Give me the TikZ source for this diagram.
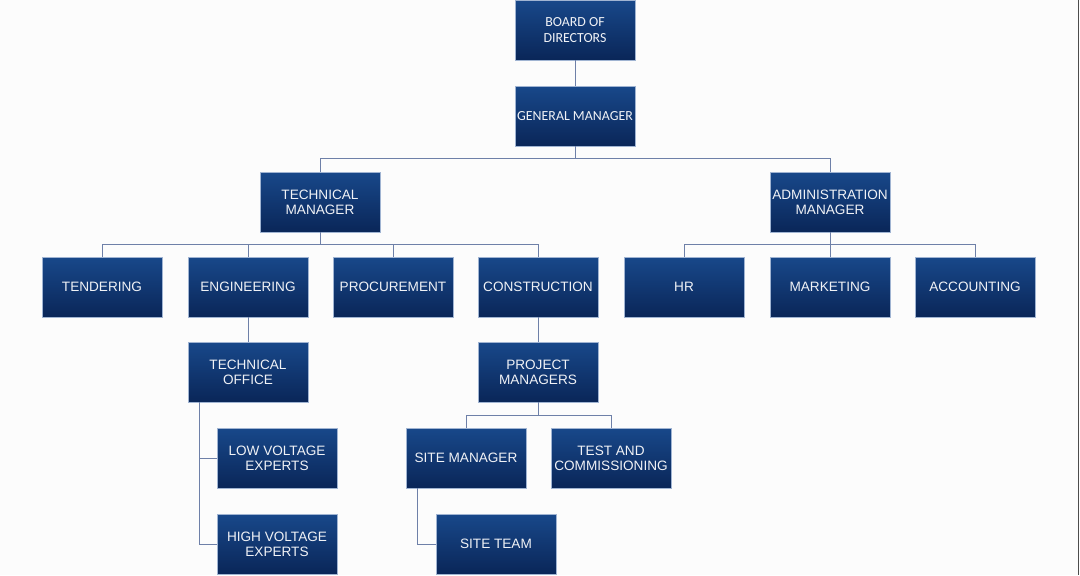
\documentclass[tikz,border=0pt]{standalone}
\usepackage{fontspec}
\setmainfont{Liberation Sans}
\newfontfamily\calfont{Carlito}
\definecolor{boxtop}{RGB}{24,72,138}
\definecolor{boxbot}{RGB}{10,38,88}
\definecolor{boxedge}{RGB}{160,180,210}
\definecolor{conn}{RGB}{110,128,168}
\definecolor{txt}{RGB}{240,242,246}
\begin{document}
\begin{tikzpicture}[x=0.75pt,y=-0.75pt,
  box/.style={draw=boxedge,line width=0.7pt,top color=boxtop,bottom color=boxbot,
    minimum width=90pt,minimum height=45pt,inner sep=1pt,text=txt,align=center,
    font=\fontsize{10.2}{11.5}\selectfont},
  cbox/.style={box,font=\calfont\fontsize{10.4}{11.8}\selectfont},
  link/.style={draw=conn,line width=0.6pt}]
\fill[white!99!black] (0,0) rectangle (1080,575);
\useasboundingbox (0,0) rectangle (1080,575);
\draw[black!70,line width=0.8pt] (1078.6,0) -- (1078.6,575);

\node[cbox] (bod) at (575,30) {BOARD OF\\DIRECTORS};
\node[cbox] (gm) at (575,116) {GENERAL MANAGER};
\node[box] (tm) at (320,202) {TECHNICAL\\MANAGER};
\node[box] (am) at (830,202) {ADMINISTRATION\\MANAGER};
\node[box] (ten) at (102,287) {TENDERING};
\node[box] (eng) at (248,287) {ENGINEERING};
\node[box] (pro) at (393,287) {PROCUREMENT};
\node[box] (con) at (538,287) {CONSTRUCTION};
\node[box] (hr) at (684,287) {HR};
\node[box] (mkt) at (830,287) {MARKETING};
\node[box] (acc) at (975,287) {ACCOUNTING};
\node[box] (to) at (248,372) {TECHNICAL\\OFFICE};
\node[box] (pm) at (538,372) {PROJECT\\MANAGERS};
\node[box] (lv) at (277,458) {LOW VOLTAGE\\EXPERTS};
\node[box] (hv) at (277,544) {HIGH VOLTAGE\\EXPERTS};
\node[box] (sm) at (466,458) {SITE MANAGER};
\node[box] (tc) at (611,458) {TEST AND\\COMMISSIONING};
\node[box] (st) at (496,544) {SITE TEAM};

\draw[link] (bod.south) -- (gm.north);
\draw[link] (gm.south) -- ++(0,12) -| (tm.north);
\draw[link] (gm.south) -- ++(0,12) -| (am.north);
\foreach \n in {ten,eng,pro,con}
  \draw[link] (tm.south) -- ++(0,12) -| (\n.north);
\foreach \n in {hr,mkt,acc}
  \draw[link] (am.south) -- ++(0,12) -| (\n.north);
\draw[link] (eng.south) -- (to.north);
\draw[link] (con.south) -- (pm.north);
\draw[link] ([xshift=9pt]to.south west) |- (lv.west);
\draw[link] ([xshift=9pt]to.south west) |- (hv.west);
\draw[link] (pm.south) -- ++(0,13) -| (sm.north);
\draw[link] (pm.south) -- ++(0,13) -| (tc.north);
\draw[link] ([xshift=9pt]sm.south west) |- (st.west);
\end{tikzpicture}
\end{document}
